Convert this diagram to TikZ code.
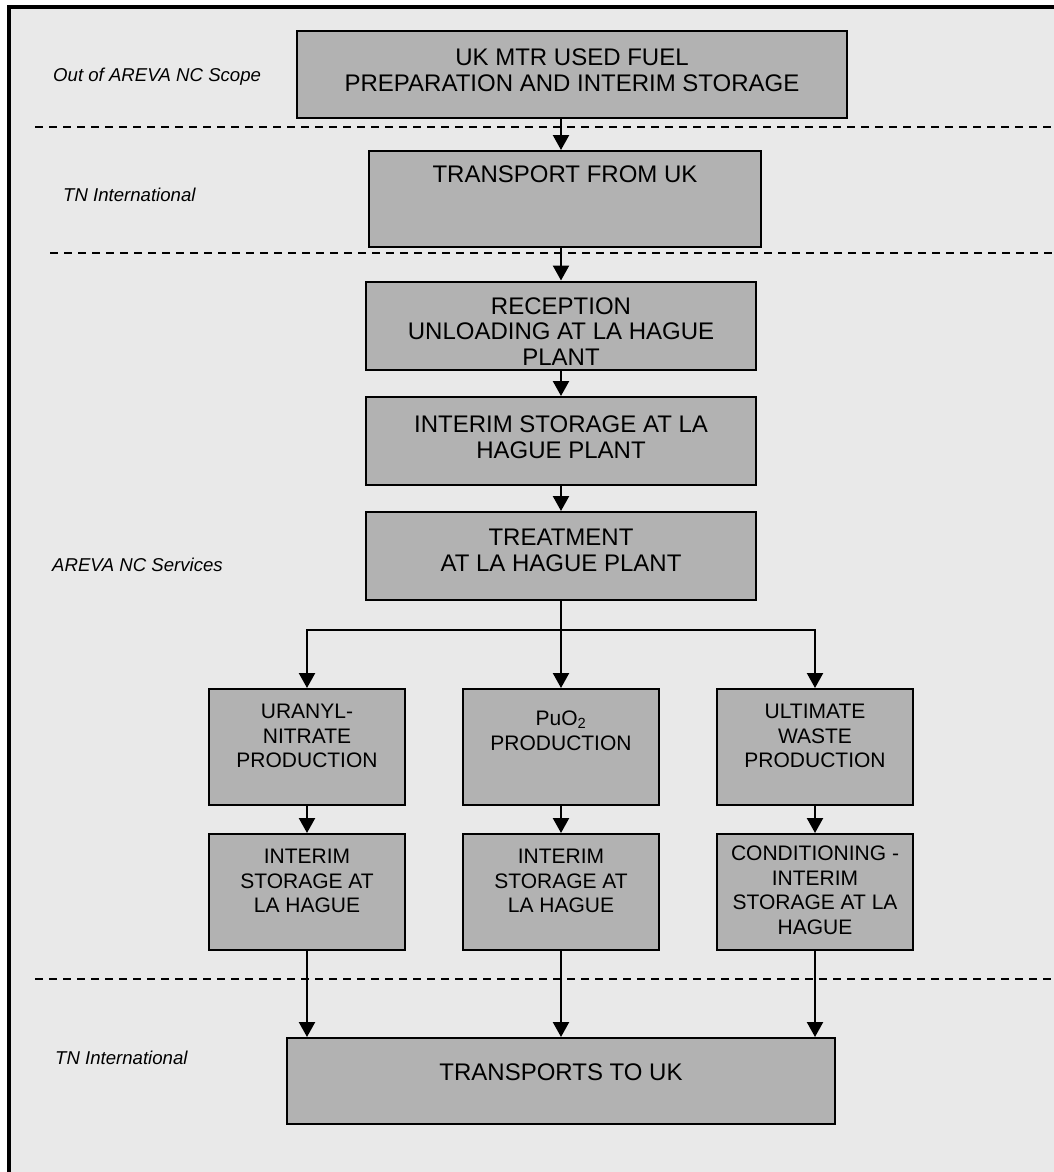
\documentclass[tikz,border=0pt]{standalone}
\usepackage{fontspec}
\setmainfont{Liberation Sans}
\usetikzlibrary{positioning}
\usetikzlibrary{arrows.meta}

\definecolor{pagegray}{HTML}{E9E9E9}
\definecolor{boxgray}{HTML}{B2B2B2}

\begin{document}
\begin{tikzpicture}[x=1pt, y=-1pt
  , stage/.style={draw, fill=boxgray, line width=2pt, inner sep=0pt}
  , big/.style={stage, minimum width=390pt, minimum height=88pt}
  , small/.style={stage, minimum width=196pt, minimum height=116pt}
  , bigtext/.style={inner sep=0pt, align=center, font=\fontsize{24}{25.5}\selectfont}
  , smalltext/.style={inner sep=0pt, align=center, font=\fontsize{21}{24.5}\selectfont}
  , scopelabel/.style={anchor=west, inner sep=0pt, font=\fontsize{18.6}{22}\selectfont\itshape}
  , flow/.style={line width=2.3pt, -{Triangle[width=16pt,length=15pt]}}
  , border/.style={dash pattern=on 8pt off 6pt, line width=2pt}
  ]

  \useasboundingbox (0,0) rectangle (1054,1172);

  % page frame
  \fill [pagegray] (8,7) rectangle (1054,1172);
  \draw [line width=4.5pt] (9,1172) -- (9,7) -- (1054,7);

  % scope borders
  \draw [border] (35,127) -- (1054,127);
  \draw [border] (50,253) -- (1054,253);
  \draw [border] (35,979) -- (1054,979);

  % scope names
  \node [scopelabel] (outscope) at (53,77)   {Out of AREVA NC Scope};
  \node [scopelabel] (tnfrom)   at (63,195)  {TN International};
  \node [scopelabel] (services) at (52,565)  {AREVA NC Services};
  \node [scopelabel] (tnto)     at (55,1058) {TN International};

  % main line
  \node [stage, minimum width=550pt, minimum height=87pt] (fuel) at (572,74.5) {};
  \node [stage, minimum width=392pt, minimum height=96pt] (transfrom) at (565,199) {};
  \node [big] (reception) at (561,325.5) {};
  \node [big] (storage)   at (561,441)   {};
  \node [big] (treatment) at (561,556)   {};

  % products
  \node [small] (uranyl)    at (307,747) {};
  \node [small] (puo)       at (561,747) {};
  \node [small] (waste)     at (815,747) {};
  \node [small] (ustore)    at (307,892) {};
  \node [small] (pustore)   at (561,892) {};
  \node [small] (wastecond) at (815,892) {};

  \node [stage, minimum width=548pt, minimum height=86pt] (transto) at (561,1081) {};

  % texts
  \node [bigtext, below=19pt of fuel.north]      (fueltext)      {UK MTR USED FUEL\\PREPARATION AND INTERIM STORAGE};
  \node [bigtext, below=16pt of transfrom.north] (transfromtext) {TRANSPORT FROM UK};
  \node [bigtext, below=17pt of reception.north] (receptiontext) {RECEPTION\\UNLOADING AT LA HAGUE\\PLANT};
  \node [bigtext, below=20pt of storage.north]   (storagetext)   {INTERIM STORAGE AT LA\\HAGUE PLANT};
  \node [bigtext, below=18pt of treatment.north] (treatmenttext) {TREATMENT\\AT LA HAGUE PLANT};
  \node [smalltext, below=16pt of uranyl.north]    (uranyltext)    {URANYL-\\NITRATE\\PRODUCTION};
  \node [smalltext, below=23pt of puo.north]       (puotext)       {PuO\textsubscript{2}\\PRODUCTION};
  \node [smalltext, below=16pt of waste.north]     (wastetext)     {ULTIMATE\\WASTE\\PRODUCTION};
  \node [smalltext, below=16pt of ustore.north]    (ustoretext)    {INTERIM\\STORAGE AT\\LA HAGUE};
  \node [smalltext, below=16pt of pustore.north]   (pustoretext)   {INTERIM\\STORAGE AT\\LA HAGUE};
  \node [smalltext, below=13pt of wastecond.north] (wastecondtext) {CONDITIONING -\\INTERIM\\STORAGE AT LA\\HAGUE};
  \node [bigtext, below=27pt of transto.north]   (transtotext)   {TRANSPORTS TO UK};

  % arrows
  \draw [flow] (fuel.south -| reception) -- (transfrom.north -| reception);
  \draw [flow] (transfrom.south -| reception) -- (reception.north);
  \draw [flow] (reception.south) -- (storage.north);
  \draw [flow] (storage.south) -- (treatment.north);
  \draw [flow] (treatment.south) -- (puo.north);

  \coordinate (fork) at (561,630);
  \draw [flow] (fork) -| (uranyl.north);
  \draw [flow] (fork) -| (waste.north);

  \draw [flow] (uranyl.south) -- (ustore.north);
  \draw [flow] (puo.south) -- (pustore.north);
  \draw [flow] (waste.south) -- (wastecond.north);

  \draw [flow] (ustore.south) -- (transto.north -| ustore);
  \draw [flow] (pustore.south) -- (transto.north -| pustore);
  \draw [flow] (wastecond.south) -- (transto.north -| wastecond);

\end{tikzpicture}
\end{document}
